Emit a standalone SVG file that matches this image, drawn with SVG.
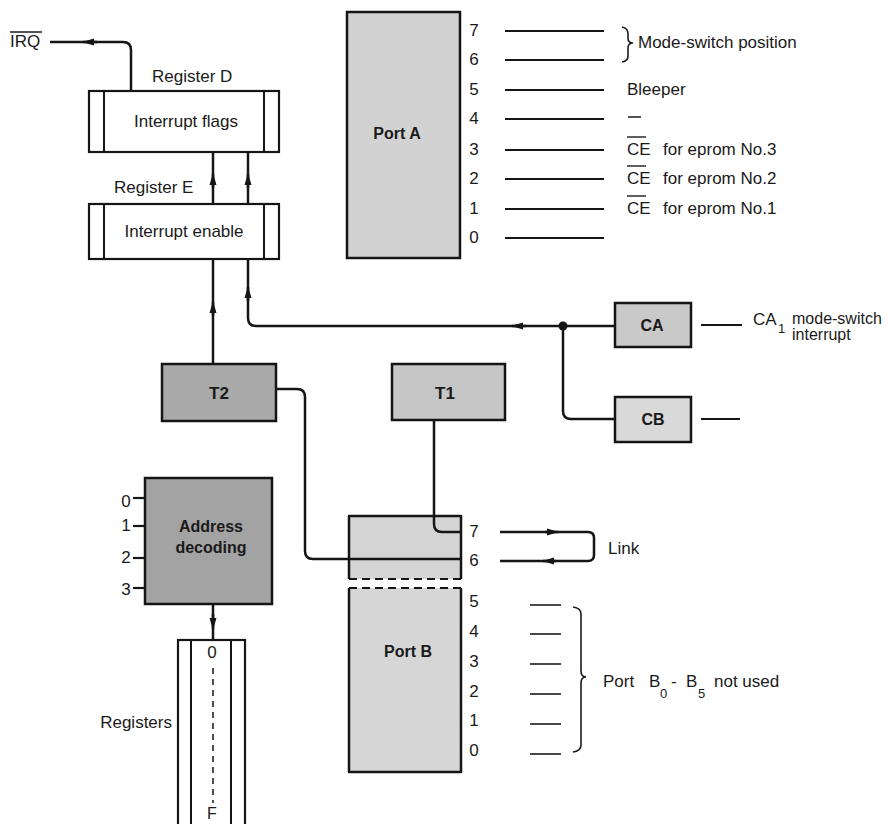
<svg xmlns="http://www.w3.org/2000/svg" width="888" height="824" viewBox="0 0 888 824">
<style>
  .t { font-family: "Liberation Sans", Arial, sans-serif; font-size: 17px; fill: #1a1a1a; }
  .b { font-family: "Liberation Sans", Arial, sans-serif; font-size: 16px; font-weight: bold; fill: #1a1a1a; text-anchor: middle; }
  .m { text-anchor: middle; }
  .sub { font-size: 13px; }
  .box { stroke: #151515; stroke-width: 2.5; }
  .reg { fill: #ffffff; stroke: #151515; stroke-width: 2.2; }
  .ln { fill: none; stroke: #151515; stroke-width: 2.5; stroke-linejoin: round; }
  .thin { fill: none; stroke: #1a1a1a; stroke-width: 1.6; }
  .sig { fill: none; stroke: #151515; stroke-width: 2.2; }
  .dash { fill: none; stroke: #151515; stroke-width: 2.2; stroke-dasharray: 8 5; }
  .ah { fill: none; stroke: #151515; stroke-width: 2.5; marker-end: url(#ah); }
</style>
<defs>
  <marker id="ah" viewBox="0 0 12 8" refX="11" refY="4" markerWidth="12" markerHeight="8" markerUnits="userSpaceOnUse" orient="auto">
    <path d="M0,0.5 L12,4 L0,7.5 z" fill="#151515"/>
  </marker>
</defs>
<rect width="888" height="824" fill="#ffffff"/>

<!-- Nodes -->
<g id="irq">
  <text class="t" x="10" y="47">IRQ</text>
  <line x1="10" y1="32" x2="42" y2="32" stroke="#1a1a1a" stroke-width="1.5"/>
</g>

<g id="register-d">
  <text class="t" x="152" y="82">Register D</text>
  <rect class="reg" x="89" y="91" width="190" height="61"/>
  <line x1="104" y1="91" x2="104" y2="152" stroke="#151515" stroke-width="2"/>
  <line x1="264" y1="91" x2="264" y2="152" stroke="#151515" stroke-width="2"/>
  <text class="t m" x="186" y="127">Interrupt flags</text>
</g>

<g id="register-e">
  <text class="t" x="114" y="193">Register E</text>
  <rect class="reg" x="89" y="204" width="190" height="55"/>
  <line x1="104" y1="204" x2="104" y2="259" stroke="#151515" stroke-width="2"/>
  <line x1="264" y1="204" x2="264" y2="259" stroke="#151515" stroke-width="2"/>
  <text class="t m" x="184" y="237">Interrupt enable</text>
</g>

<g id="port-a">
  <rect class="box" x="347" y="12" width="113" height="246" fill="#d2d2d2"/>
  <text class="b" x="397" y="139">Port A</text>
  <g class="t m">
    <text x="474" y="36">7</text>
    <text x="474" y="65">6</text>
    <text x="474" y="95">5</text>
    <text x="474" y="124">4</text>
    <text x="474" y="155">3</text>
    <text x="474" y="184">2</text>
    <text x="474" y="214">1</text>
    <text x="474" y="243">0</text>
  </g>
  <g class="sig">
    <line x1="505" y1="31" x2="604" y2="31"/>
    <line x1="505" y1="60" x2="604" y2="60"/>
    <line x1="505" y1="90" x2="604" y2="90"/>
    <line x1="505" y1="119" x2="604" y2="119"/>
    <line x1="505" y1="150" x2="604" y2="150"/>
    <line x1="505" y1="179" x2="604" y2="179"/>
    <line x1="505" y1="209" x2="604" y2="209"/>
    <line x1="505" y1="238" x2="604" y2="238"/>
  </g>
  <path class="thin" d="M622,27 Q628,28 628,34 V38 Q628,43 633,43 Q628,43 628,48 V56 Q628,61 622,62"/>
  <text class="t" x="638" y="48">Mode-switch position</text>
  <text class="t" x="627" y="95">Bleeper</text>
  <line x1="628" y1="117" x2="641" y2="117" stroke="#1a1a1a" stroke-width="1.5"/>
  <text class="t" x="627" y="155">CE<tspan x="663">for eprom No.3</tspan></text>
  <line x1="627" y1="137" x2="646" y2="137" stroke="#1a1a1a" stroke-width="1.4"/>
  <text class="t" x="627" y="184">CE<tspan x="663">for eprom No.2</tspan></text>
  <line x1="627" y1="166" x2="646" y2="166" stroke="#1a1a1a" stroke-width="1.4"/>
  <text class="t" x="627" y="214">CE<tspan x="663">for eprom No.1</tspan></text>
  <line x1="627" y1="196" x2="646" y2="196" stroke="#1a1a1a" stroke-width="1.4"/>
</g>

<g id="t2">
  <rect class="box" x="162" y="364" width="114" height="57" fill="#a9a9a9"/>
  <text class="b" x="219" y="399" style="font-size:17px">T2</text>
</g>

<g id="t1">
  <rect class="box" x="392" y="364" width="113" height="56" fill="#c6c6c6"/>
  <text class="b" x="445" y="399" style="font-size:17px">T1</text>
</g>

<g id="ca">
  <rect class="box" x="615" y="303" width="76" height="44" fill="#c9c9c9"/>
  <text class="b" x="652" y="331">CA</text>
  <line class="sig" x1="701" y1="325" x2="742" y2="325"/>
  <text class="t" x="753" y="325">CA</text>
  <text class="t sub" x="778" y="333">1</text>
  <text class="t" x="792" y="324" style="font-size:16px">mode-switch</text>
  <text class="t" x="792" y="340" style="font-size:16px">interrupt</text>
</g>

<g id="cb">
  <rect class="box" x="615" y="397" width="76" height="45" fill="#d9d9d9"/>
  <text class="b" x="653" y="425">CB</text>
  <line class="sig" x1="701" y1="419" x2="740" y2="419"/>
</g>

<g id="address-decoding">
  <rect class="box" x="145" y="478" width="127" height="126" fill="#a3a3a3"/>
  <text class="b" x="211" y="532">Address</text>
  <text class="b" x="211" y="553">decoding</text>
  <g class="t m">
    <text x="126" y="507">0</text>
    <text x="126" y="531">1</text>
    <text x="126" y="563">2</text>
    <text x="126" y="595">3</text>
  </g>
  <g class="sig">
    <line x1="133" y1="498" x2="145" y2="498"/>
    <line x1="133" y1="526" x2="145" y2="526"/>
    <line x1="133" y1="558" x2="145" y2="558"/>
    <line x1="133" y1="588" x2="145" y2="588"/>
  </g>
</g>

<g id="registers">
  <rect class="reg" x="178" y="640" width="67" height="200"/>
  <line x1="191" y1="640" x2="191" y2="824" stroke="#151515" stroke-width="2"/>
  <line x1="231" y1="640" x2="231" y2="824" stroke="#151515" stroke-width="2"/>
  <text class="t m" x="212" y="658">0</text>
  <line x1="213" y1="668" x2="213" y2="803" stroke="#151515" stroke-width="1.5" stroke-dasharray="6 5"/>
  <text class="t m" x="212" y="819" style="font-size:16px">F</text>
  <text class="t" x="172" y="728" text-anchor="end">Registers</text>
</g>

<g id="port-b">
  <rect x="349" y="516" width="112" height="63" fill="#d4d4d4"/>
  <path class="ln" d="M349,579 V516 H461 V579"/>
  <line class="dash" x1="349" y1="579" x2="461" y2="579"/>
  <rect x="349" y="588" width="112" height="184" fill="#d6d6d6"/>
  <path class="ln" d="M349,588 V772 H461 V588"/>
  <line class="dash" x1="349" y1="588" x2="461" y2="588"/>
  <text class="b" x="408" y="657">Port B</text>
  <g class="t m">
    <text x="474" y="537">7</text>
    <text x="474" y="566">6</text>
    <text x="474" y="607">5</text>
    <text x="474" y="637">4</text>
    <text x="474" y="667">3</text>
    <text x="474" y="697">2</text>
    <text x="474" y="726">1</text>
    <text x="474" y="756">0</text>
  </g>
  <g class="thin">
    <line x1="530" y1="605" x2="561" y2="605"/>
    <line x1="530" y1="634" x2="561" y2="634"/>
    <line x1="530" y1="664" x2="561" y2="664"/>
    <line x1="530" y1="694" x2="561" y2="694"/>
    <line x1="530" y1="724" x2="561" y2="724"/>
    <line x1="530" y1="754" x2="561" y2="754"/>
  </g>
  <path class="thin" d="M573,607 Q581,608 581,614 V671 Q581,677 586,677 Q581,677 581,683 V745 Q581,751 573,752"/>
  <text class="t" x="603" y="687">Port<tspan x="649">B</tspan><tspan class="sub" x="660" y="698">0</tspan><tspan x="671" y="687">-</tspan><tspan x="686">B</tspan><tspan class="sub" x="698" y="698">5</tspan><tspan x="714" y="687">not used</tspan></text>
  <text class="t" x="608" y="554">Link</text>
</g>

<!-- Connectors -->
<g id="connectors">
  <path class="ln" d="M131,91 V50 Q131,42 123,42 H50"/>
  <path class="ah" d="M97,42 H83"/>
  <path class="ln" d="M213,204 V152"/>
  <path class="ah" d="M213,188 V174"/>
  <path class="ln" d="M248,204 V152"/>
  <path class="ah" d="M248,188 V174"/>
  <path class="ln" d="M213,364 V259"/>
  <path class="ah" d="M213,316 V302"/>
  <path class="ln" d="M615,326 H256 Q248,326 248,318 V259"/>
  <path class="ah" d="M248,301 V287"/>
  <path class="ah" d="M526,326 H512"/>
  <path class="ln" d="M563,326 V411 Q563,419 571,419 H615"/>
  <circle cx="563" cy="326" r="4.5" fill="#151515"/>
  <path class="ln" d="M276,389 H297 Q305,389 305,397 V551 Q305,559 313,559 H461"/>
  <path class="ln" d="M434,420 V524 Q434,532 442,532 H461"/>
  <path class="ln" d="M500,532 H588 Q594,532 594,538 V555 Q594,561 588,561 H500"/>
  <path class="ah" d="M545,532 H558"/>
  <path class="ah" d="M556,561 H543"/>
  <path class="ln" d="M213,604 V640"/>
  <path class="ah" d="M213,614 V629"/>
</g>
</svg>
